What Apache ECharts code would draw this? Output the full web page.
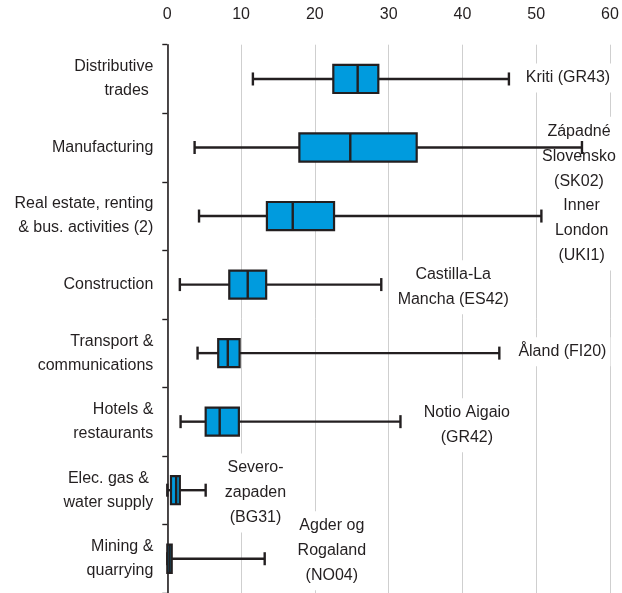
<!DOCTYPE html>
<html>
<head>
<meta charset="utf-8">
<script src="https://cdn.jsdelivr.net/npm/echarts@6/dist/echarts.min.js"></script>
<style>html,body{margin:0;padding:0;background:#fff}#c{width:622px;height:593px}</style>
</head>
<body>
<div id="c"></div>
<script>
// Categories (top to bottom)
const categories = [
  'Distributive\ntrades ',
  'Manufacturing',
  'Real estate, renting\n& bus. activities (2)',
  'Construction',
  'Transport &\ncommunications',
  'Hotels &\nrestaurants',
  'Elec. gas & \nwater supply',
  'Mining &\nquarrying'
];
// Box plot statistics per category
const minVals    = [11.6, 3.7, 4.3, 1.7, 4.1, 1.8, 0.0, 0.0];
const q1Vals     = [22.5, 17.9, 13.5, 8.4, 6.9, 5.2, 0.5, 0.0];
const medianVals = [25.8, 24.8, 17.0, 10.9, 8.2, 7.1, 1.2, 0.3];
const q3Vals     = [28.6, 33.8, 22.6, 13.4, 9.8, 9.7, 1.7, 0.6];
const maxVals    = [46.3, 56.2, 50.7, 29.0, 45.0, 31.6, 5.2, 13.2];
// Region with the maximum value (annotation)
const maxRegions = [
  'Kriti (GR43)',
  'Západné\nSlovensko\n(SK02)',
  'Inner\nLondon\n(UKI1)',
  'Castilla-La\nMancha (ES42)',
  'Åland (FI20)',
  'Notio Aigaio\n(GR42)',
  'Severo-\nzapaden\n(BG31)',
  'Agder og\nRogaland\n(NO04)'
];
const annoX = [54.3, 55.8, 56.15, 38.75, 53.55, 40.6, 11.95, 22.3];
const xTicks = [0, 10, 20, 30, 40, 50, 60];

// styling
const annoDy = [-1, 8.7, 15, 2.6, -1.3, 3.6, 2.7, -7.9];
const FONT = 'Liberation Sans';
const DARK = '#231f20';

const boxData = categories.map((c, i) => [i, minVals[i], q1Vals[i], medianVals[i], q3Vals[i], maxVals[i]]);
const annoData = categories.map((c, i) => ({
  value: [annoX[i], i],
  label: {formatter: maxRegions[i], offset: [0, annoDy[i]]}
}));

function renderItem(params, api) {
  const cat = api.value(0);
  const v = [1, 2, 3, 4, 5].map(k => api.value(k));
  const p = v.map(x => api.coord([x, cat]));
  const band = api.size([0, 1])[1];
  const hb = band * 0.205;
  const hc = band * 0.095;
  const y = p[0][1];
  const ls = {stroke: DARK, lineWidth: 2.4};
  return {
    type: 'group',
    children: [
      {type: 'line', shape: {x1: p[0][0], y1: y, x2: p[1][0], y2: y}, style: ls},
      {type: 'line', shape: {x1: p[3][0], y1: y, x2: p[4][0], y2: y}, style: ls},
      {type: 'line', shape: {x1: p[0][0], y1: y - hc, x2: p[0][0], y2: y + hc}, style: ls},
      {type: 'line', shape: {x1: p[4][0], y1: y - hc, x2: p[4][0], y2: y + hc}, style: ls},
      {type: 'rect', shape: {x: p[1][0], y: y - hb, width: p[3][0] - p[1][0], height: 2 * hb},
       style: {fill: '#009bde', stroke: DARK, lineWidth: 2.2}},
      {type: 'line', shape: {x1: p[2][0], y1: y - hb, x2: p[2][0], y2: y + hb}, style: ls}
    ]
  };
}

const chart = echarts.init(document.getElementById('c'), null, {renderer: 'canvas'});
chart.setOption({
  animation: false,
  backgroundColor: '#fff',
  textStyle: {fontFamily: FONT},
  grid: {left: 167.3, right: 12, top: 44.7, height: 551, containLabel: false},
  xAxis: {
    type: 'value', position: 'top', min: 0, max: 60, interval: 10,
    axisLine: {show: false}, axisTick: {show: false},
    axisLabel: {color: DARK, fontSize: 16, fontFamily: FONT, margin: 22,
      formatter: v => xTicks.includes(v) ? String(v) : ''},
    splitLine: {show: true, lineStyle: {color: '#cfcfcf', width: 1}}
  },
  yAxis: {
    type: 'category', data: categories, inverse: true,
    axisLine: {show: true, lineStyle: {color: DARK, width: 1.6}},
    axisTick: {show: true, length: 5, lineStyle: {color: DARK, width: 1.4}},
    axisLabel: {color: DARK, fontSize: 16, fontFamily: FONT, margin: 14, lineHeight: 24, align: 'right'},
    splitLine: {show: false}
  },
  series: [
    {
      type: 'scatter', z: 1, symbolSize: 0, data: annoData, silent: true,
      itemStyle: {opacity: 1},
      emphasis: {disabled: true},
      label: {show: true, position: 'inside', color: DARK, opacity: 1, fontSize: 16, fontFamily: FONT,
        lineHeight: 25, align: 'center', verticalAlign: 'middle',
        backgroundColor: '#fff', padding: [2, 4]}
    },
    {
      type: 'custom', z: 3, renderItem: renderItem, data: boxData,
      encode: {x: [1, 2, 3, 4, 5], y: 0}
    }
  ]
});
</script>
</body>
</html>
